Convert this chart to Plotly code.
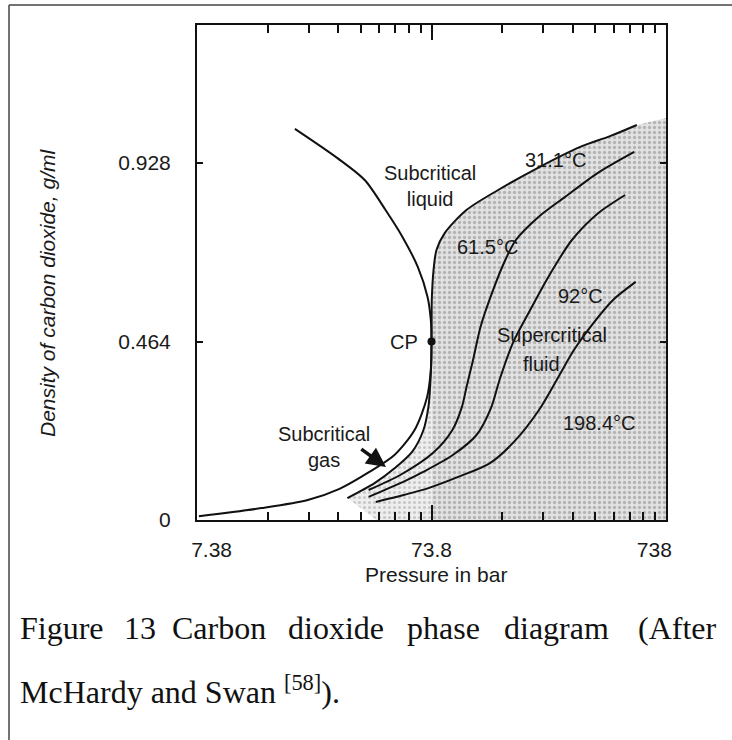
import math
import plotly.graph_objects as go

# ---------------- data ----------------
x_tick_vals = [7.38, 73.8, 738]
x_tick_text = ["7.38", "73.8", "738"]
x_minor_mult = [2, 3, 4, 5, 6, 7, 8, 9]
y_tick_vals = [0, 0.464, 0.928]
y_tick_text = ["0", "0.464", "0.928"]

# saturation (coexistence) curve: liquid branch down to CP, then vapour branch
coex_x = [19.3, 29.3, 38.3, 47.0, 55.5, 64.5, 71.0, 73.3, 73.8,
          73.3, 70.5, 62.5, 51.3, 40.1, 29.9, 21.9, 13.9, 7.52]
coex_y = [1.017, 0.941, 0.884, 0.806, 0.736, 0.658, 0.580, 0.520, 0.464,
          0.390, 0.317, 0.234, 0.169, 0.125, 0.081, 0.052, 0.031, 0.010]

# isotherms (pressure in bar, density g/ml)
iso31_x = [32.3, 42.2, 51.5, 61.0, 68.2, 71.6, 72.8, 73.5, 73.8, 73.9, 74.0,
           75.3, 77.5, 84.0, 104, 142, 209, 318, 426, 554]
iso31_y = [0.057, 0.096, 0.135, 0.177, 0.234, 0.294, 0.346, 0.400, 0.464, 0.520, 0.572,
           0.650, 0.702, 0.746, 0.806, 0.858, 0.915, 0.970, 0.998, 1.027]
iso61_x = [39.8, 54.3, 74.8, 90.6, 99.5, 104.1, 111, 119.4, 133.6, 152.3, 169, 211, 274, 377, 540]
iso61_y = [0.078, 0.117, 0.174, 0.234, 0.294, 0.346, 0.416, 0.502, 0.590, 0.676, 0.728, 0.788, 0.840, 0.902, 0.957]
iso92_x = [39.8, 55.9, 68.0, 91.0, 114.8, 132.3, 143.9, 164, 194.5, 228.5, 253.9, 293, 380, 494]
iso92_y = [0.060, 0.099, 0.125, 0.169, 0.221, 0.291, 0.364, 0.460, 0.546, 0.624, 0.671, 0.728, 0.798, 0.845]
iso198_x = [42.7, 56.1, 71.6, 95.9, 131.1, 166.9, 212, 256.6, 298.8, 361.8, 438.6, 548]
iso198_y = [0.047, 0.065, 0.083, 0.112, 0.148, 0.205, 0.286, 0.372, 0.442, 0.512, 0.572, 0.619]

cp_x = [73.8]
cp_y = [0.464]
shade_top_right = 1.045
light_shade_left = 43.0

x_min, x_max = 7.38, 738
y_min, y_max = 0.0, 1.287

# ---------------- figure ----------------
W, H = 732, 740
L, R, T, B = 197, 66, 25, 220
PW, PH = W - L - R, H - T - B


def px(xp):
    return (xp - L) / PW


def py(yp):
    return (H - B - yp) / PH


fig = go.Figure()

# shaded supercritical region (right of Pc, below the critical isotherm)
sx = [cp_x[0]] + [x for x, y in zip(iso31_x, iso31_y) if y >= cp_y[0]] + [x_max, x_max]
sy = [0] + [y for y in iso31_y if y >= cp_y[0]] + [shade_top_right, 0]
fig.add_trace(go.Scatter(
    x=sx, y=sy, fill="toself", mode="none", hoverinfo="skip", showlegend=False,
    fillcolor="#d8d8d8",
    fillpattern=dict(shape=".", bgcolor="#e2e2e2", fgcolor="#858585", size=5, solidity=0.35),
))
# lighter shading in the gas region next to Pc
lx = [x for x, y in zip(iso31_x, iso31_y) if y <= cp_y[0]] + [cp_x[0], light_shade_left]
ly = [y for y in iso31_y if y <= cp_y[0]] + [0, 0]
fig.add_trace(go.Scatter(
    x=lx, y=ly, fill="toself", mode="none", hoverinfo="skip", showlegend=False,
    fillcolor="#ececec",
    fillpattern=dict(shape=".", bgcolor="#eeeeee", fgcolor="#a0a0a0", size=5, solidity=0.3),
))

line_style = dict(color="#111111", width=2, shape="spline", smoothing=0.8)
for xs, ys in [(coex_x, coex_y), (iso31_x, iso31_y), (iso61_x, iso61_y),
               (iso92_x, iso92_y), (iso198_x, iso198_y)]:
    fig.add_trace(go.Scatter(x=xs, y=ys, mode="lines", line=line_style,
                             hoverinfo="skip", showlegend=False))

fig.add_trace(go.Scatter(x=cp_x, y=cp_y, mode="markers",
                         marker=dict(color="#111111", size=8),
                         hoverinfo="skip", showlegend=False))
# dummy trace so the top (mirror) axis is drawn
fig.add_trace(go.Scatter(x=cp_x, y=cp_y, xaxis="x2", mode="markers",
                         marker=dict(opacity=0), hoverinfo="skip", showlegend=False))

minor_vals = [v * m for v in x_tick_vals[:-1] for m in x_minor_mult]
nb = "\u00a0"
x_tick_text_shifted = [nb * 5 + x_tick_text[0], x_tick_text[1], x_tick_text[2] + nb * 4]

txt_font = dict(family="Liberation Sans, Arial, sans-serif", size=20, color="#1a1a1a")
tick_font = dict(family="Liberation Sans, Arial, sans-serif", size=21, color="#1a1a1a")

xrange_log = [math.log10(x_min), math.log10(x_max)]
fig.update_layout(
    width=W, height=H,
    margin=dict(l=L, r=R, t=T, b=B, pad=0),
    paper_bgcolor="white", plot_bgcolor="white",
    xaxis=dict(type="log", range=xrange_log, tickmode="array",
               tickvals=x_tick_vals, ticktext=x_tick_text_shifted,
               ticks="inside", ticklen=15, tickwidth=1.5, tickcolor="#111",
               showline=True, linewidth=2, linecolor="#111", mirror=True,
               showgrid=False, zeroline=False, tickfont=tick_font,
               ticklabelstandoff=10,
               minor=dict(tickmode="array", tickvals=minor_vals, ticks="inside",
                          ticklen=8, tickwidth=1.5, tickcolor="#111", showgrid=False)),
    xaxis2=dict(type="log", range=xrange_log, overlaying="x", side="top",
                tickmode="array", tickvals=x_tick_vals, showticklabels=False,
                ticks="inside", ticklen=15, tickwidth=1.5, tickcolor="#111",
                showline=False, showgrid=False, zeroline=False,
                minor=dict(tickmode="array", tickvals=minor_vals, ticks="inside",
                           ticklen=8, tickwidth=1.5, tickcolor="#111", showgrid=False)),
    yaxis=dict(range=[y_min, y_max], tickmode="array", tickvals=y_tick_vals,
               ticktext=y_tick_text, ticks="inside", ticklen=6, tickwidth=1.5,
               tickcolor="#111", showline=True, linewidth=2, linecolor="#111",
               mirror="ticks", showgrid=False, zeroline=False, tickfont=tick_font,
               ticklabelstandoff=20),
)

ann = []


def lg(v):
    return math.log10(v)


def data_text(text, x, y, **kw):
    d = dict(text=text, x=lg(x), y=y, xref="x", yref="y", showarrow=False, font=txt_font,
             xanchor="center", yanchor="middle")
    d.update(kw)
    ann.append(d)


data_text("Subcritical<br>liquid", 72.6, 0.868)
data_text("31.1°C", 249, 0.936)
data_text("61.5°C", 128.5, 0.710)
data_text("92°C", 320, 0.582)
data_text("Supercritical", 242, 0.481)
data_text("fluid", 217, 0.406)
data_text("198.4°C", 383, 0.252)
data_text("Subcritical<br>gas", 25.8, 0.19)
data_text("CP", cp_x[0], cp_y[0], xanchor="right", xshift=-12)

# arrow pointing to the subcritical gas region
ann.append(dict(x=lg(47.2), y=0.138, ax=lg(36.5), ay=0.187, xref="x", yref="y",
                axref="x", ayref="y", text="", showarrow=True,
                arrowhead=2, arrowsize=1.1, arrowwidth=3.5, arrowcolor="#111"))


def paper_text(text, xp, yp, font, **kw):
    d = dict(text=text, x=px(xp), y=py(yp), xref="paper", yref="paper",
             showarrow=False, font=font, xanchor="center", yanchor="middle")
    d.update(kw)
    ann.append(d)


# axis titles
paper_text("Pressure in bar", 436, 574, tick_font)
paper_text("<i>Density of carbon dioxide, g/ml</i>", 48, 293,
           dict(family="Liberation Sans, Arial, sans-serif", size=21, color="#1a1a1a"),
           textangle=-90)

# caption (justified first line)
cap_font = dict(family="Liberation Serif, Times New Roman, serif", size=32, color="#111")
cap_words = ["Figure", "13", "Carbon", "dioxide", "phase", "diagram"]
cap_starts = [18, 122, 170, 286, 405, 502]
for w, s in zip(cap_words, cap_starts):
    paper_text(w, s, 628, cap_font, xanchor="left")
paper_text("(After", 719, 628, cap_font, xanchor="right")
paper_text("McHardy and Swan <sup>[58]</sup>).", 18, 690, cap_font, xanchor="left")

fig.update_layout(annotations=ann)

# outer frame lines of the figure panel
fig.add_shape(type="line", xref="paper", yref="paper", x0=px(9), y0=py(5), x1=px(732), y1=py(5),
              line=dict(color="#444", width=1.5))
fig.add_shape(type="line", xref="paper", yref="paper", x0=px(9), y0=py(5), x1=px(9), y1=py(740),
              line=dict(color="#444", width=1.5))

fig.write_html("out.html")
